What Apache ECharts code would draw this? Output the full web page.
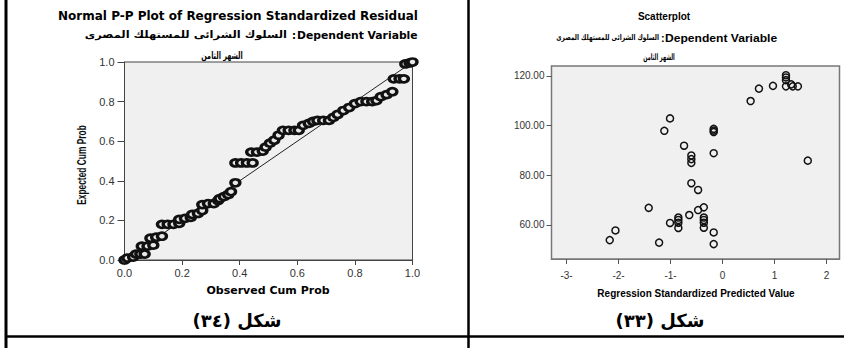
<!DOCTYPE html>
<html>
<head>
<meta charset="utf-8">
<script src="https://cdn.jsdelivr.net/npm/echarts@6/dist/echarts.min.js"></script>
<style>
  html, body { margin: 0; padding: 0; background: #fff; }
  #chart { width: 844px; height: 348px; }
</style>
</head>
<body>
<div id="chart"></div>
<script>
// Normal P-P plot: observed vs expected cumulative probability of residuals
const ppObserved = [0.00, 0.01, 0.03, 0.04, 0.055, 0.07, 0.06, 0.08, 0.10, 0.09, 0.11, 0.13,
  0.13, 0.15, 0.17, 0.19, 0.19, 0.21, 0.23, 0.235, 0.255, 0.27, 0.27, 0.29, 0.31, 0.325,
  0.33, 0.345, 0.36, 0.37, 0.385, 0.385, 0.405, 0.425, 0.445, 0.44, 0.46, 0.48, 0.49,
  0.505, 0.52, 0.535, 0.55, 0.57, 0.59, 0.605, 0.62, 0.64, 0.655, 0.67, 0.69, 0.71, 0.725,
  0.74, 0.76, 0.78, 0.80, 0.82, 0.84, 0.86, 0.875, 0.89, 0.91, 0.93, 0.935, 0.955, 0.97,
  0.975, 0.99, 1.00];
const ppExpected = [0.00, 0.01, 0.015, 0.03, 0.03, 0.03, 0.07, 0.07, 0.075, 0.11, 0.115, 0.12,
  0.18, 0.18, 0.18, 0.185, 0.205, 0.21, 0.215, 0.23, 0.235, 0.25, 0.28, 0.285, 0.285, 0.30,
  0.31, 0.32, 0.33, 0.345, 0.39, 0.49, 0.49, 0.49, 0.49, 0.545, 0.545, 0.55, 0.57,
  0.59, 0.605, 0.63, 0.655, 0.655, 0.655, 0.655, 0.68, 0.69, 0.70, 0.705, 0.705, 0.705, 0.72,
  0.735, 0.755, 0.77, 0.79, 0.80, 0.80, 0.80, 0.805, 0.825, 0.835, 0.85, 0.915, 0.915, 0.915,
  0.99, 0.995, 1.00];
const ppRefLine = [0, 1];

// Scatterplot: standardized predicted value vs dependent variable
const predicted = [-1.01, -1.12, -0.74, -0.60, -0.60, -0.60, -0.60, -1.42, -0.64, -1.01,
  -0.85, -0.85, -0.85, -0.85, -2.06, -2.17, -1.22,
  0.54, 0.70, 0.97, 1.22, 1.22, 1.22, 1.22, 1.32, 1.35, 1.45,
  -0.17, -0.17, -0.17, -0.17, 1.64, -0.47, -0.47, -0.36, -0.36, -0.36, -0.36, -0.36, -0.17, -0.17];
const dependent = [102.9, 97.9, 91.9, 88.0, 86.5, 85.0, 76.8, 66.9, 64.0, 60.8,
  63.0, 62.0, 60.9, 58.8, 57.8, 53.9, 52.9,
  109.9, 114.9, 116.0, 120.3, 119.4, 118.3, 115.8, 116.6, 115.8, 115.8,
  98.7, 98.0, 97.4, 88.9, 85.9, 74.1, 66.0, 67.1, 63.0, 62.0, 60.9, 58.9, 57.0, 52.3];
const scatterXTicks = [-3, -2, -1, 0, 1, 2];
const scatterYTicks = [60, 80, 100, 120];

const arabicVar = 'السلوك الشرائى للمستهلك المصرى';
const arabicMonth = 'الشهر الثامن';
const depLabel = 'Dependent Variable';

const ppPoints = ppObserved.map((x, i) => [x, ppExpected[i]]);
const scPoints = predicted.map((x, i) => [x, dependent[i]]);

const sans = 'Liberation Sans, Arial, sans-serif';
const wide = 'DejaVu Sans, sans-serif';

function txt(x, y, text, size, weight, family, align, extra, fill) {
  return Object.assign({
    type: 'text', x: x, y: y,
    style: { text: text, fontSize: size, fontWeight: weight, fontFamily: family,
      fill: fill || '#000', align: align || 'center', verticalAlign: 'middle' }
  }, extra || {});
}
function line(x1, y1, x2, y2, w) {
  return { type: 'line', shape: { x1: x1, y1: y1, x2: x2, y2: y2 },
    style: { stroke: '#000', lineWidth: w } };
}

const chart = echarts.init(document.getElementById('chart'), null, { renderer: 'svg' });

chart.setOption({
  animation: false,
  backgroundColor: '#fff',
  grid: [
    { left: 124.5, top: 62, width: 288, height: 198, show: true,
      backgroundColor: '#f0f0f0', borderColor: '#444', borderWidth: 1 },
    { left: 551.5, top: 66, width: 288, height: 193, show: true,
      backgroundColor: '#f0f0f0', borderColor: '#777', borderWidth: 1.5 }
  ],
  xAxis: [
    { gridIndex: 0, type: 'value', min: 0, max: 1, interval: 0.2,
      splitLine: { show: false },
      axisLine: { show: true, onZero: false, lineStyle: { color: '#444' } },
      axisTick: { show: true, length: 5, lineStyle: { color: '#444' } },
      axisLabel: { margin: 7, fontSize: 11, fontFamily: sans, color: '#333',
        formatter: v => v.toFixed(1) } },
    { gridIndex: 1, type: 'value', min: -3.29, max: 2.25,
      splitLine: { show: false },
      axisLine: { show: true, onZero: false, lineStyle: { color: '#777' } },
      axisTick: { show: true, length: 5, customValues: scatterXTicks, lineStyle: { color: '#555' } },
      axisLabel: { margin: 11, fontSize: 10, fontFamily: sans, color: '#333',
        customValues: scatterXTicks,
        formatter: v => (v < 0 ? '-' + Math.abs(v) + '-' : String(v)) } }
  ],
  yAxis: [
    { gridIndex: 0, type: 'value', min: 0, max: 1, interval: 0.2,
      splitLine: { show: false },
      axisLine: { show: true, onZero: false, lineStyle: { color: '#444' } },
      axisTick: { show: true, length: 7, lineStyle: { color: '#444' } },
      axisLabel: { margin: 10, fontSize: 11, fontFamily: sans, color: '#333',
        formatter: v => v.toFixed(1) } },
    { gridIndex: 1, type: 'value', min: 46.3, max: 124,
      splitLine: { show: false },
      axisLine: { show: true, onZero: false, lineStyle: { color: '#777' } },
      axisTick: { show: true, length: 5, customValues: scatterYTicks, lineStyle: { color: '#555' } },
      axisLabel: { margin: 7, fontSize: 10, fontFamily: sans, color: '#333',
        customValues: scatterYTicks, formatter: v => v.toFixed(2) } }
  ],
  series: [
    { type: 'line', xAxisIndex: 0, yAxisIndex: 0,
      data: ppRefLine.map(v => [v, v]), symbol: 'none', silent: true,
      lineStyle: { color: '#222', width: 1 }, z: 2 },
    { type: 'scatter', xAxisIndex: 0, yAxisIndex: 0, data: ppPoints,
      symbol: 'circle', symbolSize: [9, 7],
      itemStyle: { color: '#e8e8e8', borderColor: '#111', borderWidth: 3, opacity: 1 }, z: 3 },
    { type: 'scatter', xAxisIndex: 1, yAxisIndex: 1, data: scPoints,
      symbol: 'circle', symbolSize: 7,
      itemStyle: { color: 'rgba(0,0,0,0)', borderColor: '#111', borderWidth: 1.5, opacity: 1 }, z: 3 }
  ],
  graphic: [
    // table rules
    line(6, 0, 6, 348, 3),
    line(468.5, 0, 468.5, 348, 2.5),
    line(6, 336.5, 844, 336.5, 2.5),
    // P-P plot texts
    txt(238, 16, 'Normal P-P Plot of Regression Standardized Residual', 12, 'bold', wide),
    txt(287, 35, arabicVar, 10, 'bold', wide, 'right', { scaleX: 1.15 }),
    txt(292, 35, ':', 10, 'bold', wide, 'left'),
    txt(297, 35, depLabel, 10, 'bold', wide, 'left', { scaleX: 1.08 }),
    txt(222, 55, arabicMonth, 10, 'bold', wide, 'center', { scaleX: 0.65 }),
    txt(268, 290, 'Observed Cum Prob', 11, 'bold', wide),
    txt(82, 165, 'Expected Cum Prob', 12, 'bold', sans, 'center',
      { rotation: Math.PI / 2, scaleX: 0.7 }, '#111'),
    txt(237, 320, '\u200Fشكل (٣٤)\u200F', 18, 'bold', wide),
    // Scatterplot texts
    txt(664, 16, 'Scatterplot', 10, 'bold', sans),
    txt(659, 38, arabicVar, 8, 'bold', wide, 'right', { scaleX: 0.73 }),
    txt(661, 38, ':', 11, 'bold', sans, 'left'),
    txt(665, 38, depLabel, 11, 'bold', sans, 'left', { scaleX: 1.1 }),
    txt(659, 57, arabicMonth, 9, 'bold', wide, 'center', { scaleX: 0.55 }),
    txt(696, 293, 'Regression Standardized Predicted Value', 10, 'bold', sans),
    txt(660, 320, '\u200Fشكل (٣٣)\u200F', 18, 'bold', wide)
  ]
});
</script>
</body>
</html>
